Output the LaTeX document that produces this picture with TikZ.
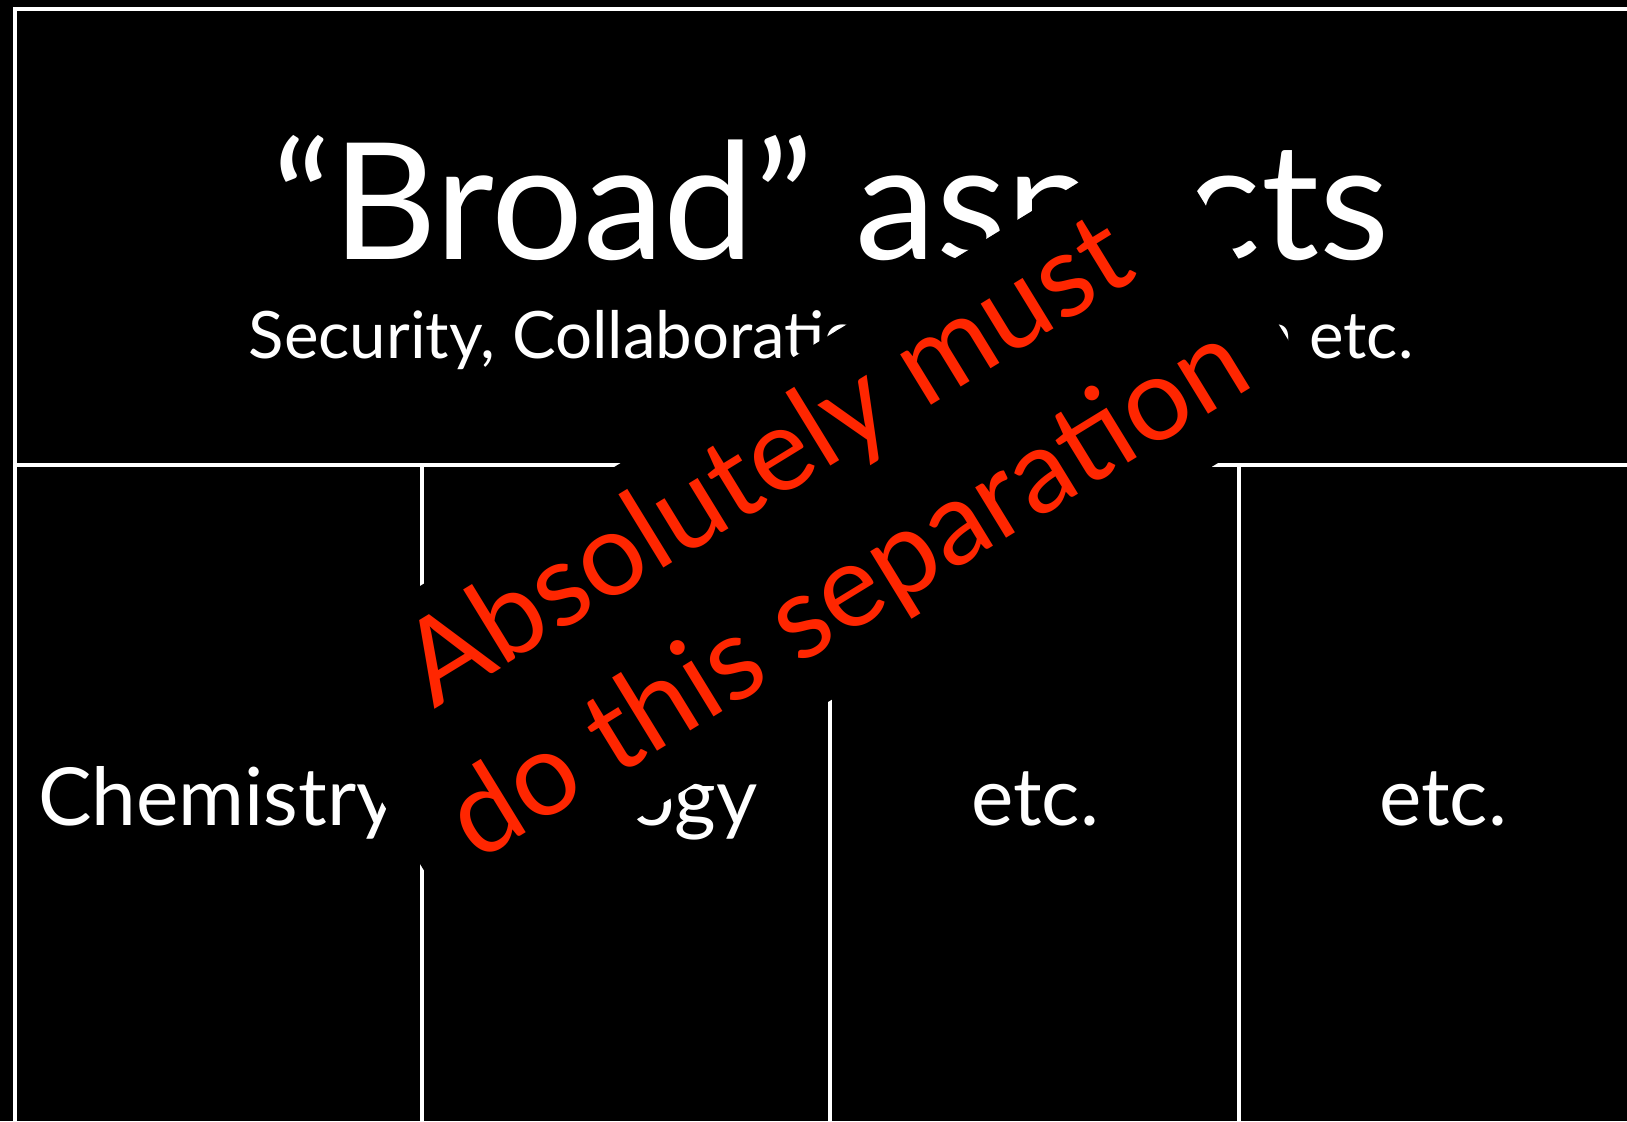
\documentclass[tikz,border=0pt]{standalone}
\usepackage{fontspec}
\setmainfont{Lato}
\usepackage{xcolor}
\definecolor{AlertRed}{HTML}{FF2600}
\begin{document}
\begin{tikzpicture}[x=0.1mm,y=-0.1mm,
  rule/.style={draw=white,line width=0.4mm},
  head/.style={text=white,inner sep=0pt,anchor=base,
    font=\fontsize{46.2}{55}\selectfont},
  subhead/.style={text=white,inner sep=0pt,anchor=base,
    font=\fontsize{18.6}{22}\selectfont},
  column/.style={text=white,inner sep=0pt,anchor=base,
    font=\fontsize{22.8}{27}\selectfont},
  warning/.style={fill=black,rotate=31.5,inner sep=0pt,
    minimum width=101.4mm,minimum height=31.2mm,
    text=AlertRed,align=center,
    font=\fontsize{33.2}{43.5}\selectfont}]
  \fill[black](0,0) rectangle (1627,1121);
  \useasboundingbox(0,0) rectangle (1627,1121);
  % frame and columns
  \draw[rule](1640,9)--(14.5,9)--(14.5,1130);
  \draw[rule](14.5,465)--(1640,465);
  \foreach \x in {422,830,1239}
    \draw[rule](\x,465)--(\x,1130);
  \node[head](BA) at (831,259) {“Broad” aspects};
  \node[subhead](SC) at (831,358)
    {Security, Collaboration, Visualisation etc.};
  \node[column](CH) at (218,825) {Chemistry};
  \node[column](BI) at (626,825) {Biology};
  \node[column](E1) at (1035,825) {etc.};
  \node[column](E2) at (1443,825) {etc.};
  % Overlay
  \node[warning](SEP) at (810,530)
    {Absolutely must\\do this separation};
\end{tikzpicture}
\end{document}
